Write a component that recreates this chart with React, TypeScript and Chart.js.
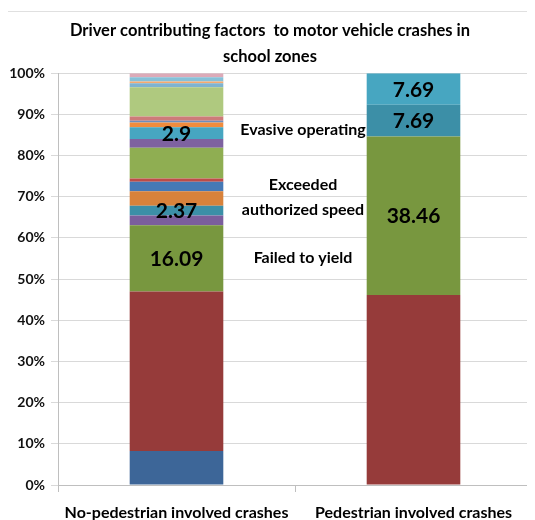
import React, { useEffect, useRef } from "react";
import { Chart, registerables } from "chart.js";

Chart.register(...registerables);

const categories = ["No-pedestrian involved crashes", "Pedestrian involved crashes"];

const seriesNames = [
  "Factor 1", "Factor 2", "Failed to yield", "Factor 4", "Exceeded authorized speed",
  "Factor 6", "Factor 7", "Factor 8", "Factor 9", "Factor 10", "Evasive operating",
  "Factor 12", "Factor 13", "Factor 14", "Factor 15", "Factor 16", "Factor 17",
  "Factor 18", "Factor 19",
];

const noPedestrianValues = [
  8.28, 38.67, 16.09, 2.35, 2.37, 3.57, 2.26, 0.83, 7.43, 2.11, 2.9, 1.12, 0.41,
  1.04, 7.14, 0.97, 0.39, 1.07, 0.97,
];

const pedestrianValues = [
  0, 46.16, 38.46, 0, 7.69, 0, 0, 0, 0, 0, 7.69, 0, 0, 0, 0, 0, 0, 0, 0,
];

const seriesColors = [
  "#3D6698", "#963B3A", "#78973F", "#7B5E9D", "#3C8FA7", "#D8823B", "#4679B6",
  "#BE4B48", "#8FAE52", "#7E62A0", "#47A6C1", "#F08C3E", "#6C8EBF", "#CD7B79",
  "#AFC97F", "#7FB3D0", "#F6A96E", "#86C0D8", "#DCAAB8",
];

const labeledNoPedestrian = [
  false, false, true, false, true, false, false, false, false, false, true,
  false, false, false, false, false, false, false, false,
];
const labeledPedestrian = [
  false, false, true, false, true, false, false, false, false, false, true,
  false, false, false, false, false, false, false, false,
];

const yTickValues = [0, 10, 20, 30, 40, 50, 60, 70, 80, 90, 100];

const annotationTexts = ["Evasive operating", "Exceeded", "authorized speed", "Failed to yield"];
const annotationLevels = [86.2, 72.8, 66.7, 55.1];

const titleLines = [
  "Driver contributing factors  to motor vehicle crashes in",
  "school zones",
];

const FONT = "Lato, 'Open Sans', sans-serif";

export default function App() {
  const canvasRef = useRef<HTMLCanvasElement | null>(null);

  useEffect(() => {
    const canvas = canvasRef.current;
    if (!canvas) return;

    const sumNo = noPedestrianValues.reduce((a, b) => a + b, 0);
    const sumPed = pedestrianValues.reduce((a, b) => a + b, 0);

    const datasets = seriesNames.map((name, i) => ({
      label: name,
      data: [
        (noPedestrianValues[i] / sumNo) * 100,
        (pedestrianValues[i] / sumPed) * 100,
      ],
      backgroundColor: seriesColors[i],
      borderWidth: 0,
      categoryPercentage: 1,
      barPercentage: 0.395,
    }));

    const labelPlugin = {
      id: "segLabels",
      afterDatasetsDraw(chart: any) {
        const ctx = chart.ctx;
        ctx.save();
        ctx.fillStyle = "#000";
        ctx.font = `bold 21px ${FONT}`;
        ctx.textAlign = "center";
        ctx.textBaseline = "middle";
        seriesNames.forEach((_, i) => {
          const meta = chart.getDatasetMeta(i);
          const raw = [noPedestrianValues[i], pedestrianValues[i]];
          const flags = [labeledNoPedestrian[i], labeledPedestrian[i]];
          meta.data.forEach((el: any, j: number) => {
            if (!flags[j] || !raw[j]) return;
            const y = (el.y + el.base) / 2;
            ctx.fillText(String(raw[j]), el.x, y + 1);
          });
        });
        const xs = chart.scales.x;
        const ys = chart.scales.y;
        const ax = xs.getPixelForValue(0.5) + 8;
        ctx.font = `bold 16px ${FONT}`;
        annotationTexts.forEach((t, k) => {
          ctx.fillText(t, ax, ys.getPixelForValue(annotationLevels[k]));
        });
        ctx.restore();
      },
    };

    const chart = new Chart(canvas, {
      type: "bar",
      data: { labels: categories, datasets },
      plugins: [labelPlugin],
      options: {
        animation: false,
        responsive: false,
        maintainAspectRatio: false,
        layout: { padding: { left: 0, right: 2, top: 0, bottom: 0 } },
        plugins: {
          legend: { display: false },
          tooltip: { enabled: false },
          title: {
            display: true,
            text: titleLines,
            color: "#000",
            font: { family: FONT, size: 16.5, weight: "bold", lineHeight: 1.58 },
            padding: { top: 6, bottom: 3 },
          },
        },
        scales: {
          x: {
            stacked: true,
            grid: {
              drawOnChartArea: false,
              drawTicks: true,
              tickLength: 7,
              color: "#BFBFBF",
            },
            border: { color: "#BFBFBF" },
            ticks: {
              color: "#000",
              font: { family: FONT, size: 16, weight: "bold" },
              padding: 11,
              maxRotation: 0,
              autoSkip: false,
            },
            afterFit(scale: any) {
              scale.height = 35;
            },
          },
          y: {
            stacked: true,
            min: 0,
            max: 100,
            afterBuildTicks(scale: any) {
              scale.ticks = yTickValues.map((v) => ({ value: v }));
            },
            grid: { color: "#D9D9D9", tickLength: 7, drawTicks: true },
            border: { color: "#BFBFBF" },
            ticks: {
              color: "#111",
              font: { family: FONT, size: 14, weight: "bold" },
              padding: 6,
              callback: (v: any) => `${v}%`,
            },
            afterFit(scale: any) {
              scale.width = 50;
            },
          },
        },
      },
    } as any);

    return () => chart.destroy();
  }, []);

  return (
    <div
      style={{
        position: "relative",
        width: 527,
        height: 509,
        marginLeft: -1,
        marginTop: 3,
        borderLeft: "1px solid #000",
        borderTop: "1px solid #E0E0E0",
        overflow: "hidden",
      }}
    >
      <canvas ref={canvasRef} width={526} height={508} style={{ display: "block" }} />
    </div>
  );
}
